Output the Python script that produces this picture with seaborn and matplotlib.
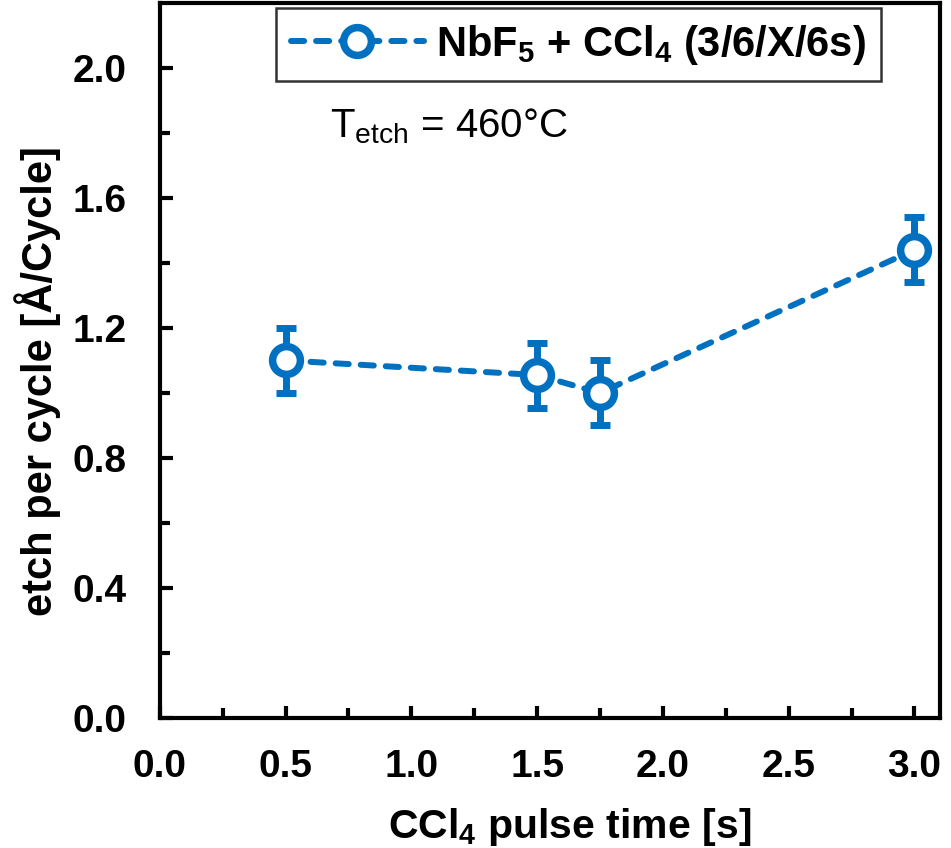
import matplotlib
matplotlib.use("Agg")
import matplotlib.pyplot as plt
import seaborn as sns
import pandas as pd

pulse_time = [0.5, 1.5, 1.75, 3.0]
epc = [1.10, 1.055, 1.00, 1.44]
epc_err = [0.10, 0.10, 0.10, 0.10]
series_label = r"NbF$_5$ + CCl$_4$ (3/6/X/6s)"
annotation = r"T$_{etch}$ = 460°C"
xticks_major = [0.0, 0.5, 1.0, 1.5, 2.0, 2.5, 3.0]
xticks_minor = [0.25, 0.75, 1.25, 1.75, 2.25, 2.75]
yticks_major = [0.0, 0.4, 0.8, 1.2, 1.6, 2.0]
yticks_minor = [0.2, 0.6, 1.0, 1.4, 1.8]

sns.set_style("ticks")
plt.rcParams['font.family'] = ['Liberation Sans', 'DejaVu Sans']
plt.rcParams['mathtext.default'] = 'regular'
plt.rcParams['text.color'] = 'black'
plt.rcParams['axes.labelcolor'] = 'black'
plt.rcParams['xtick.color'] = 'black'
plt.rcParams['ytick.color'] = 'black'

color = "#0070C0"
df = pd.DataFrame({"x": pulse_time, "y": epc})

fig = plt.figure(figsize=(9.51, 8.48), dpi=100)
ax = fig.add_axes([0.168, 0.153, 0.820, 0.844])

ax.errorbar(pulse_time, epc, yerr=epc_err, fmt='none', ecolor=color,
            elinewidth=5, capsize=7, capthick=5, zorder=2)
sns.lineplot(data=df, x="x", y="y", ax=ax, color=color, linestyle=(0, (2.2, 2.0)),
             linewidth=4.3, dash_capstyle='round', marker='o', markersize=20,
             markerfacecolor='white', markeredgecolor=color, markeredgewidth=5.4,
             label=series_label, zorder=3)

ax.set_xlim(0, 3.1)
ax.set_ylim(0, 2.2)
ax.set_xticks(xticks_major)
ax.set_xticks(xticks_minor, minor=True)
ax.set_yticks(yticks_major)
ax.set_yticks(yticks_minor, minor=True)
ax.set_xticklabels([f"{v:.1f}" for v in xticks_major])
ax.set_yticklabels([f"{v:.1f}" for v in yticks_major])

for s in ax.spines.values():
    s.set_linewidth(3)
    s.set_color('black')
ax.tick_params(which='both', direction='in', width=3, colors='black',
               top=False, right=False, labelsize=28)
ax.tick_params(which='major', length=9)
ax.tick_params(which='minor', length=7)
ax.tick_params(axis='x', which='both', pad=22)
ax.tick_params(axis='y', which='both', pad=24)
for lbl in ax.get_xticklabels() + ax.get_yticklabels():
    lbl.set_fontweight('bold')

ax.set_xlabel(r"CCl$_4$ pulse time [s]", fontsize=29.5, fontweight='bold',
              labelpad=15, x=0.526)
ax.set_ylabel(r"etch per cycle [Å/Cycle]", fontsize=30, fontweight='bold',
              labelpad=8, y=0.471)

ax.text(0.218, 0.8115, annotation, transform=ax.transAxes, fontsize=29,
        ha='left', va='baseline')

leg = ax.legend(loc='upper left', bbox_to_anchor=(0.149, 0.992), frameon=True,
                fancybox=False, prop={'weight': 'bold', 'size': 30},
                handlelength=3.2, handletextpad=0.3, borderpad=0.35,
                borderaxespad=0.0)
leg.get_frame().set_edgecolor('black')
leg.get_frame().set_linewidth(1.8)

fig.savefig("out.png", dpi=100)
